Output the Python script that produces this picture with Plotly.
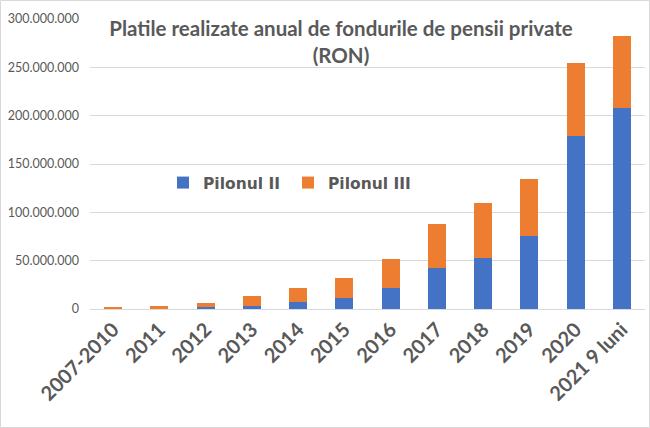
import plotly.graph_objects as go

categories = ["2007-2010", "2011", "2012", "2013", "2014", "2015", "2016",
              "2017", "2018", "2019", "2020", "2021 9 luni"]
pilonul_ii = [0.1e6, 0.3e6, 2.3e6, 3.5e6, 7.2e6, 11.7e6, 21.4e6,
              42.8e6, 52.5e6, 75.9e6, 179.0e6, 207.5e6]
pilonul_iii = [1.9e6, 3.2e6, 3.6e6, 9.9e6, 14.2e6, 20.7e6, 30.6e6,
               45.5e6, 56.9e6, 58.7e6, 75.6e6, 75.3e6]
y_ticks = [0, 50e6, 100e6, 150e6, 200e6, 250e6, 300e6]

W, H = 650, 428
ML, MR, MT, MB = 90, 5, 19, 119
PW, PH = W - ML - MR, H - MT - MB

fig = go.Figure()
fig.add_trace(go.Bar(name="Pilonul II", x=categories, y=pilonul_ii,
                     marker=dict(color="#4472C4", line_width=0)))
fig.add_trace(go.Bar(name="Pilonul III", x=categories, y=pilonul_iii,
                     marker=dict(color="#ED7D31", line_width=0)))

fig.update_layout(
    barmode="stack",
    bargap=0.61,
    width=W, height=H,
    margin=dict(l=ML, r=MR, t=MT, b=MB),
    paper_bgcolor="white",
    plot_bgcolor="white",
    separators=",.",
    title=dict(text="Platile realizate anual de fondurile de pensii private<br>(RON)",
               x=341 / W, xanchor="center", y=1 - 36 / H, yanchor="middle",
               font=dict(family="Lato", size=20.5, color="#595959", weight="bold")),
    legend=dict(orientation="h", x=(163 - ML) / PW, xanchor="left",
                y=(309 - 183) / PH, yanchor="middle",
                font=dict(family="DejaVu Sans", size=15.5, color="#595959", weight="bold"),
                bgcolor="rgba(0,0,0,0)", itemwidth=30, traceorder="normal",
                entrywidth=80),
    xaxis=dict(tickangle=-45, showgrid=False, showline=True, linecolor="#D9D9D9",
               ticks="", tickfont=dict(family="Lato", size=20, color="#595959", weight="bold")),
    yaxis=dict(range=[0, 300e6], tickvals=y_ticks, tickformat=",d",
               showgrid=True, gridcolor="#D9D9D9", gridwidth=1, zeroline=False,
               showline=False, ticks="", ticklabelstandoff=10,
               tickfont=dict(family="Lato", size=12.5, color="#595959")),
    shapes=[dict(type="rect", xref="paper", yref="paper",
                 x0=-(ML - 0.5) / PW, x1=1 + (MR - 0.5) / PW,
                 y0=-(MB - 0.5) / PH, y1=1 + (MT - 0.5) / PH,
                 line=dict(color="#D9D9D9", width=1), layer="below")],
)

fig.write_html("out.html", config={"displayModeBar": False},
               post_script="document.body.style.margin='0';document.body.style.overflow='hidden';")
